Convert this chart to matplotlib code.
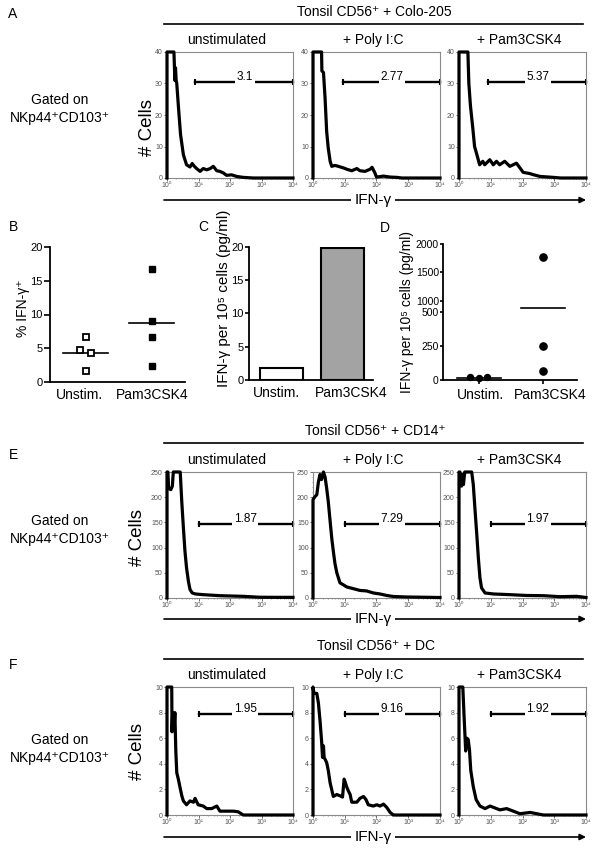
import numpy as np
import matplotlib
matplotlib.use("Agg")
import matplotlib.pyplot as plt
from matplotlib.lines import Line2D
from matplotlib.patches import FancyArrowPatch
from matplotlib.ticker import FixedLocator, NullFormatter, LogLocator, AutoMinorLocator
import matplotlib.transforms as mtransforms

plt.rcParams['font.family'] = ['Liberation Sans', 'DejaVu Sans']

# ---------------- data ----------------
hist_titles = ["unstimulated", "+ Poly I:C", "+ Pam3CSK4"]
x_tick_vals = [1, 10, 100, 1000, 10000]
x_tick_labels = ["10⁰", "10¹", "10²", "10³", "10⁴"]

# Panel A (Tonsil CD56+ + Colo-205), x as log10(IFN-g), y as # cells
A_unstim_log = [0, 0, 0.22, 0.25, 0.27, 0.29, 0.31, 0.36, 0.43, 0.52, 0.62, 0.73, 0.80, 0.86, 0.94, 1.05, 1.15,
                1.26, 1.37, 1.47, 1.58, 1.68, 1.79, 1.89, 2.05, 2.21, 2.42, 2.74, 4.0]
A_unstim_cnt = [0, 40, 40, 31, 35, 31, 30, 23, 13.8, 7.4, 4.2, 3.5, 4.6, 3.8, 3.0, 2.1, 3.0,
                2.6, 3.0, 3.7, 2.3, 2.1, 1.6, 0.85, 1.0, 0.5, 0.2, 0.0, 0.0]
A_poly_log = [0, 0, 0.27, 0.28, 0.33, 0.38, 0.43, 0.48, 0.54, 0.59, 0.69, 0.80, 0.96, 1.06, 1.22, 1.38, 1.48,
              1.64, 1.80, 1.86, 1.95, 2.0, 2.22, 2.43, 2.64, 2.8, 4.0]
A_poly_cnt = [0, 40, 40, 34, 33.5, 25.4, 14.8, 9.5, 5.3, 3.7, 4.0, 3.7, 3.2, 2.8, 2.3, 3.0, 2.3,
              2.1, 2.8, 3.4, 1.6, 0.3, 0.6, 0.3, 0.2, 0.0, 0.0]
A_pam_log = [0, 0, 0.28, 0.31, 0.36, 0.44, 0.49, 0.55, 0.65, 0.75, 0.81, 0.97, 1.08, 1.18, 1.28, 1.44, 1.60,
             1.81, 1.92, 2.02, 2.23, 2.34, 2.55, 2.97, 3.2, 4.0]
A_pam_cnt = [0, 40, 40, 30, 23, 15.3, 10, 7.9, 4.2, 5.3, 4.2, 5.8, 4.2, 5.3, 4.2, 5.3, 3.7,
             4.7, 3.2, 1.8, 1.4, 1.05, 0.5, 0.2, 0, 0]
A_gates = ["3.1", "2.77", "5.37"]
A_gate_start = [0.89, 0.93, 0.92]

# Panel E (Tonsil CD56+ + CD14+)
E_unstim_log = [0, 0, 0.03, 0.05, 0.12, 0.17, 0.20, 0.42, 0.47, 0.52, 0.57, 0.62, 0.68, 0.73, 0.80, 0.90,
                1.15, 1.68, 2.42, 2.95, 3.5, 4.0]
E_unstim_cnt = [0, 250, 250, 218, 215, 222, 250, 250, 190, 140, 93, 60, 33, 17, 10, 8,
                6.6, 4.6, 3.3, 1.5, 1.3, 1.3]
E_poly_log = [0, 0, 0.05, 0.12, 0.17, 0.22, 0.27, 0.33, 0.38, 0.43, 0.48, 0.54, 0.59, 0.64, 0.69, 0.75,
              0.85, 0.96, 1.06, 1.27, 1.48, 1.69, 1.90, 2.11, 2.32, 2.53, 2.95, 4.0]
E_poly_cnt = [0, 195, 200, 205, 230, 245, 235, 250, 240, 218, 192, 152, 119, 93, 69, 50,
              30, 26, 22, 18.5, 15, 14, 10, 8, 5, 3, 2, 1]
E_pam_log = [0, 0, 0.03, 0.08, 0.11, 0.14, 0.18, 0.24, 0.40, 0.45, 0.50, 0.56, 0.61, 0.66, 0.71, 0.82,
             1.08, 1.61, 2.13, 2.66, 3.18, 3.71, 4.0]
E_pam_cnt = [0, 250, 250, 222, 245, 225, 250, 250, 250, 225, 179, 126, 79, 40, 20, 10,
             8, 6.6, 5, 4.6, 2.6, 3.3, 1.0]
E_gates = ["1.87", "7.29", "1.97"]
E_gate_start = [1.02, 1.01, 1.01]

# Panel F (Tonsil CD56+ + DC)
F_unstim_log = [0, 0, 0.15, 0.16, 0.18, 0.22, 0.25, 0.28, 0.31, 0.36, 0.41, 0.47, 0.52, 0.62, 0.73, 0.84,
                0.89, 0.99, 1.15, 1.26, 1.42, 1.58, 1.68, 1.89, 2.11, 2.26, 2.42, 4.0]
F_unstim_cnt = [0, 10, 10, 6.5, 8, 6.6, 8, 5.0, 3.3, 2.8, 2.2, 1.5, 1.1, 0.8, 1.1, 1.0,
                1.3, 0.8, 0.7, 0.5, 0.5, 0.7, 0.3, 0.3, 0.3, 0.25, 0, 0]
F_poly_log = [0, 0, 0.03, 0.12, 0.17, 0.22, 0.27, 0.30, 0.33, 0.35, 0.43, 0.48, 0.54, 0.64, 0.75, 0.85,
              0.93, 0.98, 1.01, 1.06, 1.11, 1.17, 1.22, 1.38, 1.48, 1.59, 1.67, 1.74, 1.90, 2.01,
              2.11, 2.22, 2.32, 2.43, 2.53, 4.0]
F_poly_cnt = [0, 10, 9.5, 9.5, 8.75, 7.4, 5.8, 4.5, 5.4, 4.5, 4.1, 3.5, 2.5, 1.45, 1.6, 1.5,
              1.4, 2.8, 2.6, 2.2, 1.9, 1.6, 1.0, 1.0, 1.3, 1.45, 1.2, 0.8, 0.7, 0.8,
              0.7, 0.85, 0.6, 0.2, 0, 0]
F_pam_log = [0, 0, 0.12, 0.16, 0.19, 0.21, 0.25, 0.29, 0.33, 0.37, 0.45, 0.54, 0.66, 0.82, 0.98, 1.08,
             1.29, 1.50, 1.71, 1.92, 2.24, 2.45, 2.66, 4.0]
F_pam_cnt = [0, 10, 10, 7.7, 6.1, 5.0, 6.0, 5.9, 5.1, 3.5, 2.2, 1.2, 0.7, 0.5, 0.7, 0.6,
             0.4, 0.5, 0.3, 0.1, 0.2, 0.1, 0, 0]
F_gates = ["1.95", "9.16", "1.92"]
F_gate_start = [1.02, 1.01, 1.01]

# Panel B (% IFN-g+)
categories = ["Unstim.", "Pam3CSK4"]
B_unstim = [6.7, 4.7, 4.3, 1.7]
B_unstim_jitter = [0.0, -0.09, 0.08, 0.0]
B_pam = [16.7, 9.0, 6.6, 2.4]

# Panel C (IFN-g per 1e5 cells, pg/ml)
C_values = [1.8, 19.9]

# Panel D (IFN-g per 1e5 cells, pg/ml)
D_unstim = [22, 12, 20]
D_unstim_jitter = [-0.14, 0.0, 0.13]
D_pam = [1780, 250, 65]

# ---------------- figure ----------------
W, H = 600, 851
fig = plt.figure(figsize=(W / 100, H / 100), dpi=100)


def add_ax(x0, y0, x1, y1):
    return fig.add_axes([x0 / W, 1 - y1 / H, (x1 - x0) / W, (y1 - y0) / H])


def ftext(x, y, s, **kw):
    return fig.text(x / W, 1 - y / H, s, **kw)


def hline(x0, x1, y, lw=1.2):
    fig.add_artist(Line2D([x0 / W, x1 / W], [1 - y / H, 1 - y / H], transform=fig.transFigure,
                          color='black', lw=lw))


def arrow_axis(x0, x1, y, label):
    fig.add_artist(FancyArrowPatch((x0 / W, 1 - y / H), (x1 / W, 1 - y / H), transform=fig.transFigure,
                                   arrowstyle='-|>', mutation_scale=9, lw=1.2, color='black',
                                   shrinkA=0, shrinkB=0))
    ftext(373, y, label, ha='center', va='center', fontsize=11,
          bbox=dict(fc='white', ec='none', pad=2.5), zorder=5)


def draw_hist(ax, logx, cnt, ymax, yticks, gstart, gy, glabel):
    ax.plot(10 ** np.asarray(logx), cnt, color='black', lw=2.3, solid_joinstyle='round',
            clip_on=False, zorder=3)
    ax.set_xscale('log')
    ax.set_xlim(1, 1e4)
    ax.set_ylim(0, ymax)
    ax.plot([10 ** gstart, 1e4], [gy, gy], color='black', lw=1.7, clip_on=False)
    ax.plot([10 ** gstart, 1e4], [gy, gy], ls='none', marker='|', ms=5, mew=1.5, color='black',
            clip_on=False)
    ax.annotate(glabel, xy=(10 ** 2.48, gy), xytext=(0, 1.2), textcoords='offset points',
                ha='center', va='baseline', fontsize=8.5,
                bbox=dict(fc='white', ec='none', pad=1.2), zorder=4)
    for sp in ax.spines.values():
        sp.set_color('#8a8a8a')
        sp.set_linewidth(0.8)
    ax.xaxis.set_major_locator(FixedLocator(x_tick_vals))
    ax.set_xticklabels(x_tick_labels)
    ax.xaxis.set_minor_locator(LogLocator(base=10, subs=np.arange(2, 10)))
    ax.xaxis.set_minor_formatter(NullFormatter())
    ax.set_yticks(yticks)
    ax.yaxis.set_minor_locator(AutoMinorLocator(5))
    ax.tick_params(which='major', length=2, width=0.6, labelsize=5, colors='#555555', pad=1)
    ax.tick_params(which='minor', length=1, width=0.5, colors='#777777')


cols = [(167, 293), (313, 440), (459, 586)]


def hist_row(ytop, ybot, datasets, ymax, yticks, gate_starts, gates, gy):
    for (x0, x1), (lx, c), title, gs, gl in zip(cols, datasets, hist_titles, gate_starts, gates):
        ax = add_ax(x0, ytop, x1, ybot)
        draw_hist(ax, lx, c, ymax, yticks, gs, gy, gl)
        ftext((x0 + x1) / 2 - 3, ytop - 12, title, ha='center', va='center', fontsize=10)


# ---- Panel A ----
ftext(13, 14, "A", ha='center', va='center', fontsize=10)
ftext(374, 12, "Tonsil CD56⁺ + Colo-205", ha='center', va='center', fontsize=10)
hline(164, 583, 24)
hist_row(52, 178, [(A_unstim_log, A_unstim_cnt), (A_poly_log, A_poly_cnt), (A_pam_log, A_pam_cnt)],
         40, [0, 10, 20, 30, 40], A_gate_start, A_gates, 30.5)
ftext(147, 127, "# Cells", rotation=90, ha='center', va='center', fontsize=13.5)
ftext(60, 109, "Gated on\nNKp44⁺CD103⁺", ha='center', va='center', fontsize=10, linespacing=1.45)
arrow_axis(164, 586, 200, "IFN-γ")

# ---- Panel E ----
ftext(13, 455, "E", ha='center', va='center', fontsize=10)
ftext(375, 431, "Tonsil CD56⁺ + CD14⁺", ha='center', va='center', fontsize=10)
hline(164, 583, 443)
hist_row(472, 598, [(E_unstim_log, E_unstim_cnt), (E_poly_log, E_poly_cnt), (E_pam_log, E_pam_cnt)],
         250, [0, 50, 100, 150, 200, 250], E_gate_start, E_gates, 147)
ftext(138, 537, "# Cells", rotation=90, ha='center', va='center', fontsize=13.5)
ftext(60, 530, "Gated on\nNKp44⁺CD103⁺", ha='center', va='center', fontsize=10, linespacing=1.45)
arrow_axis(164, 586, 619, "IFN-γ")

# ---- Panel F ----
ftext(13, 665, "F", ha='center', va='center', fontsize=10)
ftext(376, 646, "Tonsil CD56⁺ + DC", ha='center', va='center', fontsize=10)
hline(164, 583, 659)
hist_row(687, 815, [(F_unstim_log, F_unstim_cnt), (F_poly_log, F_poly_cnt), (F_pam_log, F_pam_cnt)],
         10, [0, 2, 4, 6, 8, 10], F_gate_start, F_gates, 7.9)
ftext(138, 752, "# Cells", rotation=90, ha='center', va='center', fontsize=13.5)
ftext(60, 749, "Gated on\nNKp44⁺CD103⁺", ha='center', va='center', fontsize=10, linespacing=1.45)
arrow_axis(164, 586, 837, "IFN-γ")


def style_xy(ax, tick_len=4, pad=1.5, labelsize=8):
    for s in ['top', 'right']:
        ax.spines[s].set_visible(False)
    for s in ['left', 'bottom']:
        ax.spines[s].set_linewidth(1.3)
    ax.tick_params(axis='y', length=tick_len, width=1.2, labelsize=labelsize, pad=pad)


def shift_labels(ax, shifts_px):
    for lab, dx in zip(ax.get_xticklabels(), shifts_px):
        off = mtransforms.ScaledTranslation(dx / 100, 0, fig.dpi_scale_trans)
        lab.set_transform(lab.get_transform() + off)


# ---- Panel B ----
ftext(13, 227, "B", ha='center', va='center', fontsize=10)
axB = add_ax(50, 247, 185, 382)
xB = np.arange(len(categories))
axB.plot(xB[0] + np.asarray(B_unstim_jitter), B_unstim, ls='none', marker='s', ms=4.6,
         mfc='white', mec='black', mew=1.3, clip_on=False, zorder=3)
axB.plot(np.full(len(B_pam), xB[1]), B_pam, ls='none', marker='s', ms=4.2, color='black',
         clip_on=False, zorder=3)
for xi, vals in zip(xB, [B_unstim, B_pam]):
    axB.plot([xi - 0.34, xi + 0.34], [np.mean(vals)] * 2, color='black', lw=1.2, zorder=2)
axB.set_xlim(-0.54, 1.5)
axB.set_ylim(0, 20)
axB.set_yticks([0, 5, 10, 15, 20])
axB.set_xticks(xB)
axB.set_xticklabels(categories, fontsize=10)
axB.tick_params(axis='x', length=0, pad=4)
style_xy(axB)
shift_labels(axB, [-6, 0])
ftext(23, 308, "% IFN-γ⁺", rotation=90, ha='center', va='center', fontsize=10)

# ---- Panel C ----
ftext(203, 227, "C", ha='center', va='center', fontsize=10)
axC = add_ax(249, 247, 373, 380)
xC = np.arange(len(categories))
axC.bar(xC, C_values, width=0.69, color=['white', '#a3a3a3'], edgecolor='black', linewidth=1.5,
        zorder=2)
axC.set_xlim(-0.533, 1.5)
axC.set_ylim(0, 20)
axC.set_yticks([0, 5, 10, 15, 20])
axC.set_xticks(xC)
axC.set_xticklabels(categories, fontsize=10)
axC.tick_params(axis='x', length=0, pad=4)
style_xy(axC, tick_len=3, pad=1)
shift_labels(axC, [-5, 9])
ftext(224, 298, "IFN-γ per 10⁵ cells (pg/ml)", rotation=90, ha='center', va='center', fontsize=11)

# ---- Panel D ----
ftext(385, 228, "D", ha='center', va='center', fontsize=10)
axD = add_ax(443, 244, 577, 380)


def d_fwd(v):
    v = np.asarray(v, dtype=float)
    return np.where(v <= 500, v, np.where(v <= 1000, 500 + (v - 500) * 0.162, 581 + (v - 1000) * 0.419))


def d_inv(u):
    u = np.asarray(u, dtype=float)
    return np.where(u <= 500, u, np.where(u <= 581, 500 + (u - 500) / 0.162, 1000 + (u - 581) / 0.419))


axD.set_yscale('function', functions=(d_fwd, d_inv))
xD = np.arange(len(categories))
axD.plot(xD[0] + np.asarray(D_unstim_jitter), D_unstim, ls='none', marker='o', ms=4.3,
         color='black', clip_on=False, zorder=3)
axD.plot(np.full(len(D_pam), xD[1]), D_pam, ls='none', marker='o', ms=5.2, color='black',
         clip_on=False, zorder=3)
for xi, vals in zip(xD, [D_unstim, D_pam]):
    axD.plot([xi - 0.35, xi + 0.35], [np.mean(vals)] * 2, color='black', lw=1.2, zorder=2,
             clip_on=False)
axD.set_xlim(-0.5625, 1.53)
axD.set_ylim(0, 2000)
axD.yaxis.set_major_locator(FixedLocator([0, 250, 500, 1000, 1500, 2000]))
axD.yaxis.set_minor_locator(FixedLocator([]))
axD.set_yticklabels(["0", "250", "500", "1000", "1500", "2000"])
axD.set_xticks(xD)
axD.set_xticklabels(categories, fontsize=10)
axD.tick_params(axis='x', length=3, width=1.2, pad=2.5)
style_xy(axD, tick_len=2.5, pad=0.5, labelsize=7.5)
shift_labels(axD, [1, 7])
ftext(407, 312, "IFN-γ per 10⁵ cells (pg/ml)", rotation=90, ha='center', va='center', fontsize=10)

fig.savefig("out.png", dpi=100)
